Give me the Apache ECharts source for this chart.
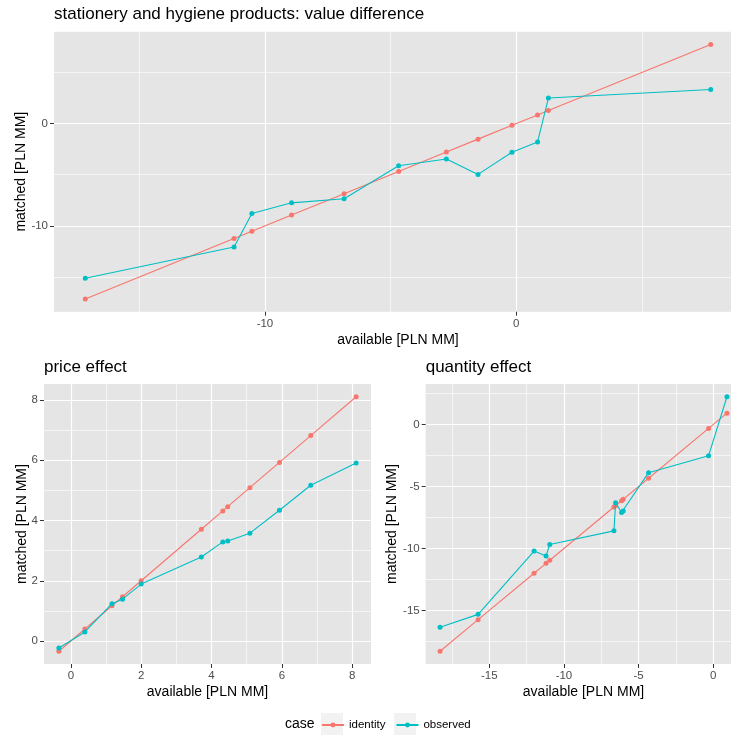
<!DOCTYPE html>
<html>
<head>
<meta charset="utf-8">
<script src="https://cdn.jsdelivr.net/npm/echarts@6/dist/echarts.min.js"></script>
<style>
html,body{margin:0;padding:0;background:#fff;}
#chart{width:731px;height:735px;}
</style>
</head>
<body>
<div id="chart"></div>
<script>
// ---- data ----
const topAvailable = [-17.15, -11.23, -10.52, -8.94, -6.85, -4.68, -2.78, -1.52, -0.17, 0.85, 1.28, 7.74];
const topObserved  = [-15.13, -12.06, -8.79, -7.75, -7.35, -4.12, -3.46, -4.97, -2.80, -1.79, 2.50, 3.33];

const priceAvailable = [-0.34, 0.40, 1.17, 1.47, 2.00, 3.71, 4.32, 4.46, 5.09, 5.93, 6.82, 8.11];
const priceObserved  = [-0.23, 0.30, 1.24, 1.39, 1.89, 2.79, 3.29, 3.32, 3.58, 4.34, 5.17, 5.91];

const qtyAvailable = [-18.30, -15.75, -12.00, -11.20, -10.95, -6.65, -6.54, -6.14, -6.03, -4.33, -0.31, 0.92];
const qtyObserved  = [-16.36, -15.32, -10.21, -10.61, -9.68, -8.58, -6.30, -7.10, -6.98, -3.88, -2.51, 2.25];

const topMajorTicks = [-10, 0];
const topMinorTicks = [-15, -5, 5];
const priceMajorTicks = [0, 2, 4, 6, 8];
const priceMinorTicks = [1, 3, 5, 7];
const qtyMajorTicks = [-15, -10, -5, 0];
const qtyMinorTicks = [-17.5, -12.5, -7.5, -2.5, 2.5];

const panelTitles = ['stationery and hygiene products: value difference', 'price effect', 'quantity effect'];
const caseNames = ['identity', 'observed'];
const xTitle = 'available [PLN MM]';
const yTitle = 'matched [PLN MM]';

// ---- styling ----
const RED = '#F8766D', TEAL = '#00BFC4';
const FONT = '"Liberation Sans", Arial, sans-serif';

function expand(vals) {
  const mn = Math.min(...vals), mx = Math.max(...vals), d = (mx - mn) * 0.05;
  return [mn - d, mx + d];
}

const panels = [
  {x: topAvailable, obs: topObserved, major: topMajorTicks, minor: topMinorTicks,
   grid: {left: 54, top: 31.7, width: 688, height: 280}, yGap: 26, title: {left: 54, top: 6}},
  {x: priceAvailable, obs: priceObserved, major: priceMajorTicks, minor: priceMinorTicks,
   grid: {left: 44, top: 384, width: 327, height: 280}, yGap: 15, title: {left: 44, top: 359}},
  {x: qtyAvailable, obs: qtyObserved, major: qtyMajorTicks, minor: qtyMinorTicks,
   grid: {left: 425.7, top: 384, width: 315.6, height: 280}, yGap: 27, title: {left: 425.7, top: 359}}
];

const grids = [], xAxes = [], yAxes = [], series = [], titles = [];

panels.forEach((p, i) => {
  grids.push(Object.assign({show: true, backgroundColor: '#E5E5E5', borderWidth: 0,
    containLabel: false, outerBoundsMode: 'none'}, p.grid));
  titles.push({text: panelTitles[i], left: p.title.left, top: p.title.top, padding: 0,
    textStyle: {fontFamily: FONT, fontSize: 17, fontWeight: 'normal', color: '#000'}});
  const xr = expand(p.x);
  const yr = expand(p.x.concat(p.obs));
  const minorAxis = (r, isX) => ({
    type: 'value', gridIndex: i, min: r[0], max: r[1],
    position: isX ? 'bottom' : 'left', offset: 0,
    axisLine: {show: false, onZero: false}, axisLabel: {show: false},
    axisTick: {show: false, customValues: p.minor},
    splitLine: {show: true, lineStyle: {color: '#FFFFFF', width: 0.6}},
    minorSplitLine: {show: false}
  });
  const majorAxis = (r, isX) => ({
    type: 'value', gridIndex: i, min: r[0], max: r[1],
    position: isX ? 'bottom' : 'left', offset: 0,
    name: isX ? xTitle : yTitle, nameLocation: 'middle', nameGap: isX ? 21 : p.yGap,
    nameMoveOverlap: false,
    nameTextStyle: {fontFamily: FONT, fontSize: 14, color: '#000'},
    axisLine: {show: false, onZero: false},
    axisTick: {show: true, inside: false, length: 4, customValues: p.major, lineStyle: {color: '#333333', width: 1}},
    axisLabel: {show: true, customValues: p.major, margin: 6, fontFamily: FONT, fontSize: 11.5,
      color: '#4D4D4D', hideOverlap: false, showMinLabel: true, showMaxLabel: true},
    splitLine: {show: true, lineStyle: {color: '#FFFFFF', width: 1.2}},
    minorSplitLine: {show: false}
  });
  xAxes.push(minorAxis(xr, true));      // index 2i
  xAxes.push(majorAxis(xr, true));      // index 2i+1
  yAxes.push(minorAxis(yr, false));
  yAxes.push(majorAxis(yr, false));
  const idData = p.x.map(v => [v, v]);
  const obsData = p.x.map((v, k) => [v, p.obs[k]]);
  [[caseNames[0], idData, RED], [caseNames[1], obsData, TEAL]].forEach(([name, data, col], s) => {
    series.push({
      type: 'line', name: name, data: data,
      xAxisIndex: 2 * i + 1, yAxisIndex: 2 * i + 1,
      symbol: 'circle', symbolSize: 5, showSymbol: true,
      lineStyle: {color: col, width: 1.1}, itemStyle: {color: col},
      emphasis: {disabled: true}, animation: false, z: 2 + s, clip: true
    });
  });
});

const chart = echarts.init(document.getElementById('chart'), null, {renderer: 'canvas'});
chart.setOption({
  backgroundColor: '#FFFFFF',
  animation: false,
  textStyle: {fontFamily: FONT},
  title: titles,
  grid: grids,
  xAxis: xAxes,
  yAxis: yAxes,
  series: series,
  legend: {
    data: caseNames, left: 321, top: 719, padding: 0, itemGap: 10,
    itemWidth: 22, itemHeight: 6, selectedMode: false,
    textStyle: {fontFamily: FONT, fontSize: 11.5, color: '#000'}
  },
  graphic: [
    {type: 'rect', left: 321, top: 713, shape: {width: 22, height: 22}, style: {fill: '#F2F2F2'}, z: -1, silent: true},
    {type: 'rect', left: 394, top: 713, shape: {width: 22, height: 22}, style: {fill: '#F2F2F2'}, z: -1, silent: true},
    {type: 'text', left: 285, top: 717, style: {text: 'case', font: '14px ' + FONT, fill: '#000'}}
  ]
});
</script>
</body>
</html>
